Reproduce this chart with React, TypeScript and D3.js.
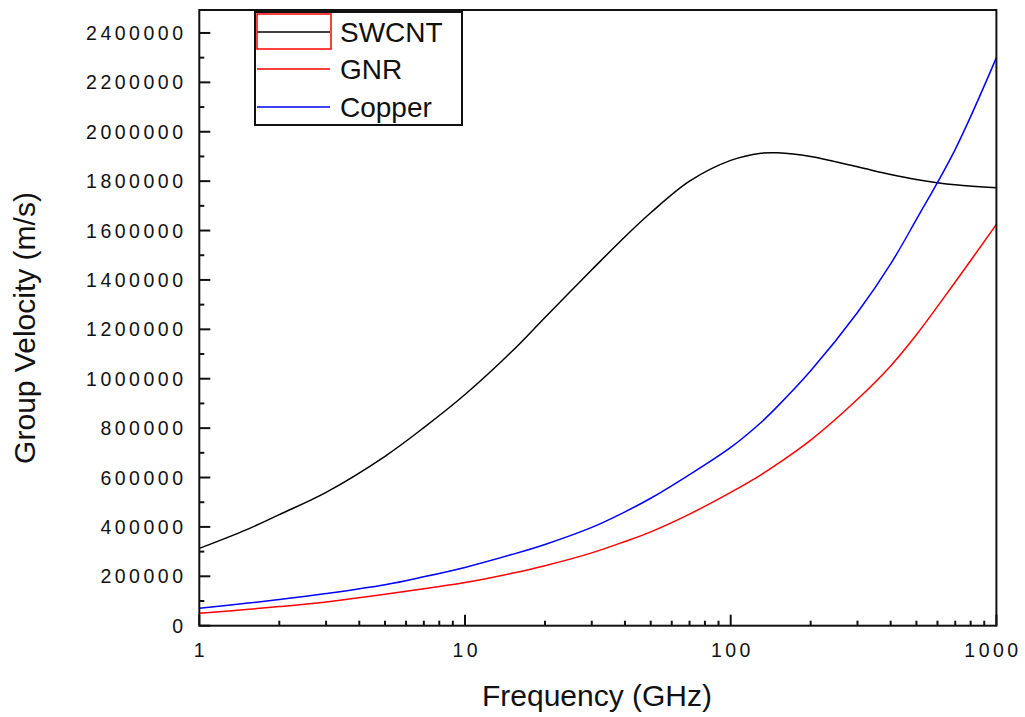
import React from 'react';
import { scaleLog, scaleLinear, line, curveCatmullRom, range } from 'd3';

// frequency samples (GHz)
const freqs = [1, 1.5, 2, 3, 5, 7, 10, 15, 20, 30, 40, 50, 70, 100, 130, 150, 200, 300, 400, 500, 700, 1000];

// group velocity (m/s)
const swcnt = [313000, 388000, 450000, 540000, 686000, 802000, 936000, 1110000, 1248000, 1441000, 1575000, 1672000, 1800000, 1884000, 1913000, 1915000, 1900000, 1858000, 1827000, 1807000, 1785000, 1773000];
const gnr = [50000, 65600, 77300, 96400, 127000, 149800, 174500, 212000, 243000, 295000, 341000, 380000, 452000, 540000, 611000, 655000, 751500, 917000, 1052000, 1178000, 1391600, 1625000];
const copper = [70500, 90700, 106000, 130000, 165600, 198000, 236000, 288000, 329000, 398000, 461000, 516000, 612000, 722000, 823000, 888000, 1032000, 1268000, 1465000, 1645000, 1929000, 2300000];

const seriesNames = ['SWCNT', 'GNR', 'Copper'];
const seriesColors = ['#000000', '#ff0000', '#0000ff'];
const seriesValues = [swcnt, gnr, copper];

const yTicks = range(0, 2400001, 200000);
const yMinor = range(100000, 2500000, 200000);
const xTicks = [1, 10, 100, 1000];
const xMinor = [2, 3, 4, 5, 6, 7, 8, 9, 20, 30, 40, 50, 60, 70, 80, 90, 200, 300, 400, 500, 600, 700, 800, 900];

const left = 199.3, right = 996.4, top = 10, bottom = 625.7;

export default function App() {
  const x = scaleLog().domain([1, 1000]).range([left, right]);
  const y = scaleLinear().domain([0, 2493000]).range([bottom, top]);

  const font = '"Liberation Sans", Arial, sans-serif';

  const makeLine = (vals: number[]) =>
    line<number>()
      .x((d, i) => x(freqs[i]))
      .y(d => y(d))
      .curve(curveCatmullRom.alpha(0.5))(vals) || '';

  return (
    <svg width={1025} height={717} style={{ position: 'absolute', left: 0, top: 0, background: '#fff' }} fontFamily={font}>
      <rect x={0} y={0} width={1025} height={717} fill="#fff" />

      {/* curves */}
      <g fill="none" strokeWidth={1.5}>
        {seriesValues.map((vals, i) => (
          <path key={seriesNames[i]} d={makeLine(vals)} stroke={seriesColors[i]} />
        ))}
      </g>

      {/* frame */}
      <rect x={left} y={top} width={right - left} height={bottom - top} fill="none" stroke="#111" strokeWidth={2} />

      {/* ticks, inward */}
      <g stroke="#111" strokeWidth={2}>
        {yTicks.map(t => (
          <line key={'y' + t} x1={left} x2={left + 11} y1={y(t)} y2={y(t)} />
        ))}
        {yMinor.map(t => (
          <line key={'ym' + t} x1={left} x2={left + 5} y1={y(t)} y2={y(t)} />
        ))}
        {xTicks.map(t => (
          <line key={'x' + t} x1={x(t)} x2={x(t)} y1={bottom} y2={bottom - 11} />
        ))}
        {xMinor.map(t => (
          <line key={'xm' + t} x1={x(t)} x2={x(t)} y1={bottom} y2={bottom - 5} />
        ))}
      </g>

      {/* tick labels */}
      <g fontSize={19.5} letterSpacing={3.5} fill="#111">
        {yTicks.map(t => (
          <text key={'yl' + t} x={186.5} y={y(t)} dy="0.36em" textAnchor="end">{t}</text>
        ))}
        {xTicks.map(t => (
          <text key={'xl' + t} x={Math.min(x(t) + 1.75, 993)} y={657} textAnchor="middle">{t}</text>
        ))}
      </g>

      {/* axis titles */}
      <text x={597} y={706} fontSize={30} textAnchor="middle" fill="#111">Frequency (GHz)</text>
      <text transform="translate(35,328) rotate(-90)" fontSize={30} textAnchor="middle" fill="#111">Group Velocity (m/s)</text>

      {/* legend */}
      <rect x={255} y={12} width={207} height={113} fill="#fff" stroke="#111" strokeWidth={2} />
      {seriesNames.map((name, i) => {
        const ly = [32, 69, 107][i];
        return (
          <g key={name}>
            <line x1={257} x2={330} y1={ly} y2={ly} stroke={seriesColors[i]} strokeWidth={1.5} />
            <text x={340} y={ly + 10} fontSize={28} fill="#111">{name}</text>
          </g>
        );
      })}
      <rect x={257} y={14} width={74} height={35} fill="none" stroke="#ff0000" strokeWidth={1.5} />
    </svg>
  );
}
